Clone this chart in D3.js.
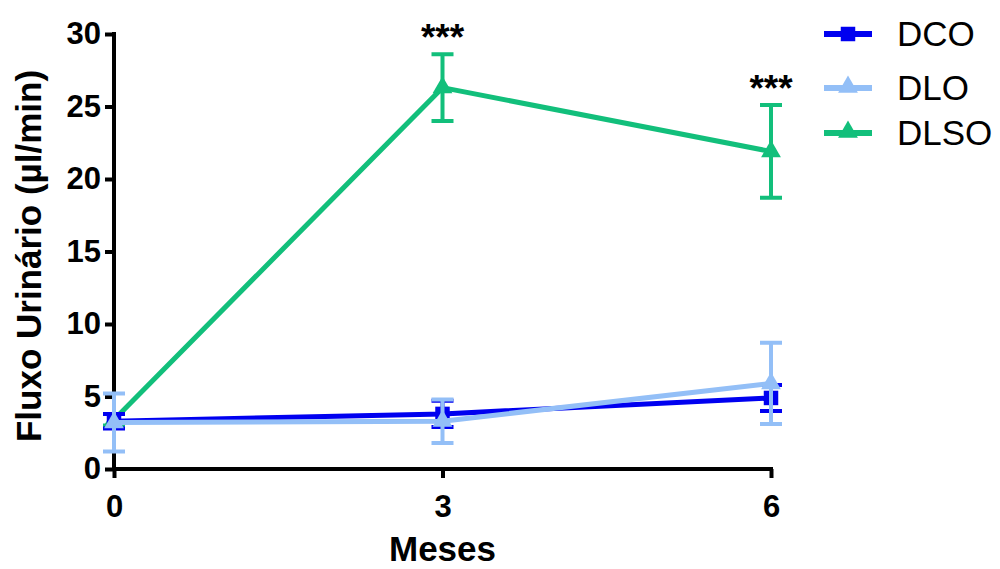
<!DOCTYPE html>
<html>
<head>
<meta charset="utf-8">
<script src="https://cdn.jsdelivr.net/npm/d3@7"></script>
<style>
  body { margin: 0; background: #fff; }
  text { font-family: "Liberation Sans", Arial, sans-serif; }
</style>
</head>
<body>
<svg id="chart" width="1000" height="569"></svg>
<script>
let months = [0, 3, 6]
let yTicks = [0, 5, 10, 15, 20, 25, 30]
let seriesNames = ['DCO', 'DLO', 'DLSO']
let dcoMean = [3.3, 3.8, 4.9]
let dcoErr = [0.5, 0.9, 0.9]
let dloMean = [3.2, 3.3, 5.9]
let dloErr = [2.0, 1.5, 2.8]
let dlsoMean = [3.4, 26.3, 21.9]
let dlsoErr = [0.4, 2.3, 3.2]
let stars = ['', '***', '***']

let svg = d3.select('#chart'),
    x = d3.scaleLinear().domain([0, 6]).range([114, 771]),
    y = d3.scaleLinear().domain([0, 30]).range([469, 34])

let series = [
    {name: 'DLSO', mean: dlsoMean, err: dlsoErr, color: '#12bf7b', marker: 'triangle'},
    {name: 'DCO', mean: dcoMean, err: dcoErr, color: '#0000f0', marker: 'square'},
    {name: 'DLO', mean: dloMean, err: dloErr, color: '#93bff7', marker: 'triangle'}
]

// axes
let yAxis = svg.append('g')
    .attr('transform', 'translate(' + x(0) + ',0)')
    .call(d3.axisLeft(y).tickValues(yTicks).tickFormat(d3.format('d')).tickSize(9).tickSizeOuter(0))
let xAxis = svg.append('g')
    .attr('transform', 'translate(0,' + y(0) + ')')
    .call(d3.axisBottom(x).tickValues(months).tickFormat(d3.format('d')).tickSize(9).tickSizeOuter(0))
;[yAxis, xAxis].forEach(a => {
    a.select('.domain').attr('stroke', '#000').attr('stroke-width', 4)
    a.selectAll('.tick line').attr('stroke', '#000').attr('stroke-width', 4)
    a.selectAll('.tick text').attr('font-size', 31).attr('font-weight', 'bold').attr('fill', '#000')
})
yAxis.select('.domain').attr('d', 'M0,' + (y(0) + 2) + 'V' + (y(30) - 2))
xAxis.select('.domain').attr('d', 'M' + (x(0) - 2) + ',0H' + (x(6) + 2))
yAxis.selectAll('.tick text').attr('x', -13)
xAxis.selectAll('.tick text').attr('y', 48).attr('dy', 0)

svg.append('text')
    .attr('transform', 'translate(41,256) rotate(-90)')
    .attr('text-anchor', 'middle')
    .attr('font-size', 35).attr('font-weight', 'bold')
    .text('Fluxo Urinário (µl/min)')

svg.append('text')
    .attr('x', x(3)).attr('y', 561)
    .attr('text-anchor', 'middle')
    .attr('font-size', 35).attr('font-weight', 'bold')
    .text('Meses')

let line = d3.line().x((d, i) => x(months[i])).y(d => y(d))
let tri = d3.symbol().type(d3.symbolTriangle).size(170)
let sq = d3.symbol().type(d3.symbolSquare).size(210)

series.forEach(s => {
    let g = svg.append('g')
    g.append('path')
        .attr('d', line(s.mean))
        .attr('fill', 'none')
        .attr('stroke', s.color)
        .attr('stroke-width', 5)
    months.forEach((m, i) => {
        let cx = x(m), top = y(s.mean[i] + s.err[i]), bot = y(s.mean[i] - s.err[i])
        g.append('path')
            .attr('d', 'M' + cx + ',' + top + 'V' + bot
                + 'M' + (cx - 11) + ',' + top + 'H' + (cx + 11)
                + 'M' + (cx - 11) + ',' + bot + 'H' + (cx + 11))
            .attr('stroke', s.color)
            .attr('stroke-width', 4)
            .attr('fill', 'none')
        g.append('path')
            .attr('d', s.marker === 'square' ? sq() : tri())
            .attr('transform', 'translate(' + cx + ',' + y(s.mean[i]) + ')')
            .attr('fill', s.color)
    })
})

// significance marks
months.forEach((m, i) => {
    if (!stars[i]) return
    svg.append('text')
        .attr('x', x(m)).attr('y', y(dlsoMean[i] + dlsoErr[i]) - 4)
        .attr('text-anchor', 'middle')
        .attr('font-size', 37).attr('font-weight', 'bold')
        .text(stars[i])
})

// legend
let legendColors = {DCO: '#0000f0', DLO: '#93bff7', DLSO: '#12bf7b'}
let legendY = [34, 88, 133]
seriesNames.forEach((name, i) => {
    let lg = svg.append('g').attr('transform', 'translate(824,' + legendY[i] + ')')
    lg.append('path').attr('d', 'M0,0H48').attr('stroke', legendColors[name]).attr('stroke-width', 6)
    lg.append('path')
        .attr('d', name === 'DCO' ? sq() : tri())
        .attr('transform', 'translate(24,' + (name === 'DCO' ? 0 : -1) + ')')
        .attr('fill', legendColors[name])
    lg.append('text')
        .attr('x', 73).attr('y', 12)
        .attr('font-size', 35)
        .text(name)
})
</script>
</body>
</html>
